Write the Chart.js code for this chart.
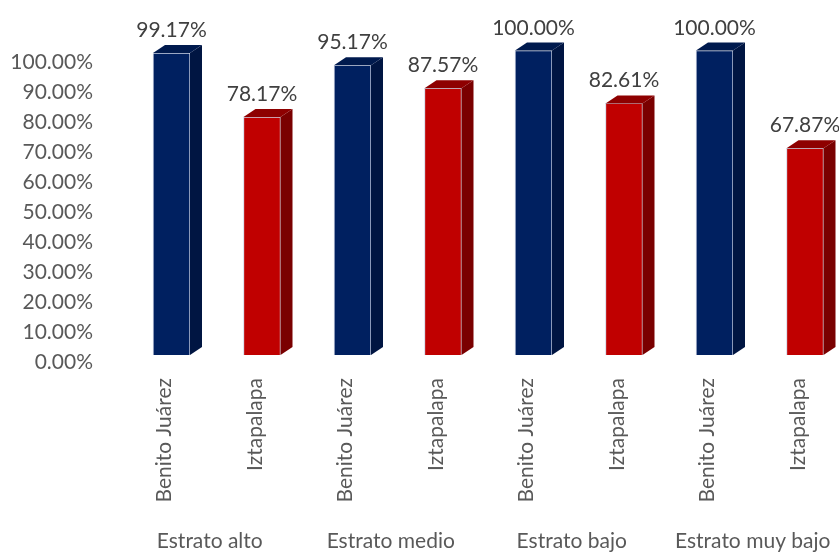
<!DOCTYPE html>
<html lang="es">
<head>
  <meta charset="UTF-8" />
  <title>Estrato por alcaldía</title>
  <script src="https://cdn.jsdelivr.net/npm/chart.js"></script>
  <style>
    html, body { margin: 0; padding: 0; background: #fff; }
    #wrap { width: 839px; height: 552px; position: relative; }
  </style>
</head>
<body>
  <div id="wrap"><canvas id="chart"></canvas></div>

  <script>
    // Datos
    const categories = ['Benito Juárez', 'Iztapalapa', 'Benito Juárez', 'Iztapalapa',
                        'Benito Juárez', 'Iztapalapa', 'Benito Juárez', 'Iztapalapa'];
    const groups = ['Estrato alto', 'Estrato medio', 'Estrato bajo', 'Estrato muy bajo'];
    const values = [99.17, 78.17, 95.17, 87.57, 100.00, 82.61, 100.00, 67.87];
    const yTicks = [0, 10, 20, 30, 40, 50, 60, 70, 80, 90, 100];

    // Colores: cara frontal, lateral y superior de cada barra
    const frontColor = { 'Benito Juárez': '#002060', 'Iztapalapa': '#c00000' };
    const sideColor  = { 'Benito Juárez': '#001542', 'Iztapalapa': '#7a0000' };
    const topColor   = { 'Benito Juárez': '#001a4e', 'Iztapalapa': '#8e0000' };

    // Geometría del área de trazado
    const AREA_TOP = 40, AREA_BOTTOM = 370, AREA_LEFT = 171.5, AREA_RIGHT = 805;
    const DX = 12, DY = 8;                       // profundidad 3D
    const AXIS_ZERO = 362, AXIS_PX = 3.0;        // escala de etiquetas del eje
    const BAR_ZERO = 355, BAR_PX = 3.045;        // escala de la cara frontal

    const gray = '#595959';
    const FAMILY = 'Lato, "Open Sans", sans-serif';
    const FONT = '21px ' + FAMILY;
    Chart.defaults.font.family = FAMILY;
    Chart.defaults.font.size = 21;
    Chart.defaults.color = gray;

    // Rango de un eje para que el valor 0 caiga en zeroPx con pxPerUnit píxeles por unidad
    function range(area, zeroPx, pxPerUnit) {
      const min = -(area.bottom - zeroPx) / pxPerUnit;
      return { min, max: min + (area.bottom - area.top) / pxPerUnit };
    }

    // Caras laterales/superiores y etiquetas de valor
    const depthPlugin = {
      id: 'depth',
      afterDatasetsDraw(chart) {
        const ctx = chart.ctx;
        const meta = chart.getDatasetMeta(0);
        meta.data.forEach((el, i) => {
          const { x, y, base, width } = el.getProps(['x', 'y', 'base', 'width'], true);
          const l = x - width / 2, r = x + width / 2;
          const name = categories[i];
          ctx.save();
          ctx.fillStyle = sideColor[name];
          ctx.beginPath();
          ctx.moveTo(r, y); ctx.lineTo(r + DX, y - DY);
          ctx.lineTo(r + DX, base - DY); ctx.lineTo(r, base);
          ctx.closePath(); ctx.fill();
          ctx.fillStyle = topColor[name];
          ctx.beginPath();
          ctx.moveTo(l, y); ctx.lineTo(l + DX, y - DY);
          ctx.lineTo(r + DX, y - DY); ctx.lineTo(r, y);
          ctx.closePath(); ctx.fill();

          ctx.fillStyle = '#404040';
          ctx.font = FONT;
          ctx.textAlign = 'center';
          ctx.textBaseline = 'alphabetic';
          ctx.fillText(values[i].toFixed(2) + '%', x, y - DY - 8);
          ctx.restore();
        });

        // Etiquetas de estrato bajo cada par
        const xs = chart.scales.x;
        ctx.save();
        ctx.fillStyle = gray;
        ctx.font = FONT;
        ctx.textAlign = 'center';
        ctx.textBaseline = 'middle';
        groups.forEach((g, k) => {
          const cx = (xs.getPixelForValue(2 * k) + xs.getPixelForValue(2 * k + 1)) / 2 - 7;
          ctx.fillText(g, cx, 541);
        });
        ctx.restore();
      }
    };

    const chart = new Chart(document.getElementById('chart'), {
      type: 'bar',
      data: {
        labels: categories,
        datasets: [{
          data: values,
          yAxisID: 'yBar',
          backgroundColor: categories.map(c => frontColor[c]),
          borderColor: 'rgba(170,180,210,0.55)',
          borderWidth: 1,
          barThickness: 37,
          clip: false
        }]
      },
      options: {
        responsive: true,
        maintainAspectRatio: false,
        animation: false,
        layout: { padding: { top: AREA_TOP, right: 839 - AREA_RIGHT, bottom: 0, left: 0 } },
        plugins: { legend: { display: false }, tooltip: { enabled: false } },
        scales: {
          x: {
            offset: false,
            grid: { display: false, drawTicks: false },
            border: { display: false },
            ticks: { minRotation: 90, maxRotation: 90, padding: 8, labelOffset: -7, autoSkip: false },
            afterFit(s) { s.height = 552 - AREA_BOTTOM; }
          },
          y: {
            min: -3, max: 107,
            grid: { display: false, drawTicks: false },
            border: { display: false },
            ticks: { padding: 78.5, autoSkip: false, callback: v => v.toFixed(2) + '%' },
            afterBuildTicks(s) { s.ticks = yTicks.map(v => ({ value: v })); },
            afterFit(s) { s.width = AREA_LEFT; }
          },
          yBar: {
            display: false,
            min: -5, max: 103
          }
        }
      },
      plugins: [depthPlugin]
    });

    // Ajuste de rangos con el área de trazado ya calculada
    Object.assign(chart.options.scales.y, range(chart.chartArea, AXIS_ZERO, AXIS_PX));
    Object.assign(chart.options.scales.yBar, range(chart.chartArea, BAR_ZERO, BAR_PX));
    chart.update();
  </script>
</body>
</html>
